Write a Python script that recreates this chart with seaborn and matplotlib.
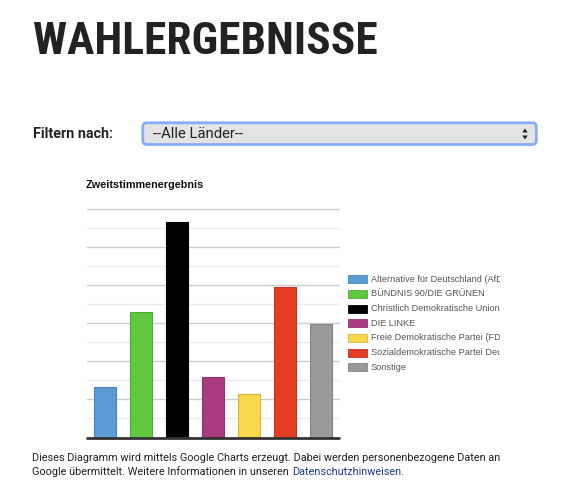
import matplotlib
matplotlib.use("Agg")
import numpy as np
import pandas as pd
import seaborn as sns
import matplotlib.pyplot as plt
from matplotlib.patches import Rectangle, FancyBboxPatch, Polygon
from matplotlib.transforms import IdentityTransform, Bbox
import matplotlib.colors as mcolors

# ---------------- data ----------------
parties = [
    "Alternative für Deutschland (AfD)",
    "BÜNDNIS 90/DIE GRÜNEN",
    "Christlich Demokratische Union Deutschlands",
    "DIE LINKE",
    "Freie Demokratische Partei (FDP)",
    "Sozialdemokratische Partei Deutschlands",
    "Sonstige",
]
values = [6.6, 16.5, 28.3, 7.9, 5.7, 19.7, 14.9]
colors = ["#5b9bd6", "#5fc83f", "#000000", "#a93c7f", "#fbd74a", "#e43d24", "#9a9a9a"]

page_title = "WAHLERGEBNISSE"
filter_label = "Filtern nach:"
select_value = "--Alle Länder--"
chart_title = "Zweitstimmenergebnis"
footer_line1 = "Dieses Diagramm wird mittels Google Charts erzeugt. Dabei werden personenbezogene Daten an"
footer_line2 = "Google übermittelt. Weitere Informationen in unseren "
footer_link = "Datenschutzhinweisen."

# ---------------- setup ----------------
sns.set_theme(style="white")
plt.rcParams["font.family"] = ["Roboto", "DejaVu Sans"]

W, H = 568, 500
fig = plt.figure(figsize=(W / 100, H / 100), dpi=100)
fig.patch.set_facecolor("white")
ID = IdentityTransform()


def Y(y):
    return H - y


def fit(t, target):
    r = fig.canvas.get_renderer()
    w = t.get_window_extent(r).width
    t.set_fontsize(t.get_fontsize() * target / w)
    return t


def darker(c, f=0.85):
    r, g, b = mcolors.to_rgb(c)
    return (r * f, g * f, b * f)


# ---------------- header ----------------
t = fig.text(33.3, Y(54.3), page_title, transform=ID, ha="left", va="baseline",
             family=["Roboto Condensed", "Liberation Sans Narrow", "Roboto"],
             weight="bold", fontsize=30, color="#222222")
fit(t, 344)

t = fig.text(32.7, Y(138.3), filter_label, transform=ID, ha="left", va="baseline",
             family=["Roboto", "DejaVu Sans"], weight="bold", fontsize=10, color="#222222")
fit(t, 80.6)

box = FancyBboxPatch((142.8, Y(144.5)), 393.5, 21.7, boxstyle="round,pad=0,rounding_size=4",
                     transform=ID, facecolor="#e3e3e3", edgecolor="#86acf4", linewidth=2)
fig.patches.append(box)
t = fig.text(152.7, Y(138.3), select_value, transform=ID, ha="left", va="baseline",
             family=["Roboto", "DejaVu Sans"], fontsize=10, color="#222222")
fit(t, 90)
fig.patches.append(Polygon([(522.3, Y(132.5)), (527.7, Y(132.5)), (525, Y(128.5))], closed=True,
                           transform=ID, facecolor="#222222", edgecolor="none"))
fig.patches.append(Polygon([(522.3, Y(135.5)), (527.7, Y(135.5)), (525, Y(139.5))], closed=True,
                           transform=ID, facecolor="#222222", edgecolor="none"))

# ---------------- chart ----------------
ax = fig.add_axes([86.7 / W, 1 - 437.5 / H, 252 / W, 228.5 / H])
df = pd.DataFrame({"Partei": parties, "Anteil": values})
sns.barplot(data=df, x="Partei", y="Anteil", hue="Partei", palette=colors, width=0.61,
            saturation=1, legend=False, ax=ax, zorder=3)
for p, c in zip(ax.patches, colors):
    p.set_edgecolor(darker(c))
    p.set_linewidth(0.8)
ax.set_xlim(-0.5, len(parties) - 0.5)
ax.set_ylim(0, 30)
for v in np.arange(2.5, 30.01, 2.5):
    major = abs(v % 5) < 1e-6
    ax.axhline(v, color="#cccccc" if major else "#ebebeb", lw=1.0, zorder=1, clip_on=False)
ax.axhline(0, color="#333333", lw=2, zorder=4, clip_on=False)
ax.set_xticks([])
ax.set_yticks([])
ax.set_xlabel("")
ax.set_ylabel("")
for s in ax.spines.values():
    s.set_visible(False)
ax.set_facecolor("white")

t = fig.text(85.5, Y(188.3), chart_title, transform=ID, ha="left", va="baseline",
             family=["Liberation Sans", "DejaVu Sans"], weight="bold", fontsize=8, color="#111111")
fit(t, 118.6)

# legend
rows = [279.3, 294.0, 308.7, 323.3, 338.0, 352.7, 367.4]
clip = Bbox.from_extents(0, 0, 499.5, H)
ref_size = None
for lab, c, ry in zip(parties, colors, rows):
    fig.patches.append(Rectangle((348.3, Y(ry + 4)), 18.4, 8, transform=ID,
                                 facecolor=c, edgecolor=darker(c), linewidth=0.6))
    tt = fig.text(370.7, Y(ry), lab, transform=ID, ha="left", va="center",
                  family=["Liberation Sans", "DejaVu Sans"], fontsize=7, color="#555555")
    if lab.startswith("BÜNDNIS"):
        fit(tt, 113)
        ref_size = tt.get_fontsize()
    tt.set_clip_box(clip)
    tt.set_clip_on(True)
for tt in fig.texts[-len(parties):]:
    tt.set_fontsize(ref_size)

# ---------------- footer ----------------
t1 = fig.text(32.3, Y(461.0), footer_line1, transform=ID, ha="left", va="baseline",
              family=["Roboto", "DejaVu Sans"], fontsize=9, color="#222222")
fit(t1, 472)
fs = t1.get_fontsize()
t2 = fig.text(32.3, Y(475.4), footer_line2, transform=ID, ha="left", va="baseline",
              family=["Roboto", "DejaVu Sans"], fontsize=fs, color="#222222")
r = fig.canvas.get_renderer()
x_end = t2.get_window_extent(r).x1
fig.text(x_end, Y(475.4), footer_link, transform=ID, ha="left", va="baseline",
         family=["Roboto", "DejaVu Sans"], fontsize=fs, color="#1f3a93")

fig.savefig("out.png", dpi=100)
